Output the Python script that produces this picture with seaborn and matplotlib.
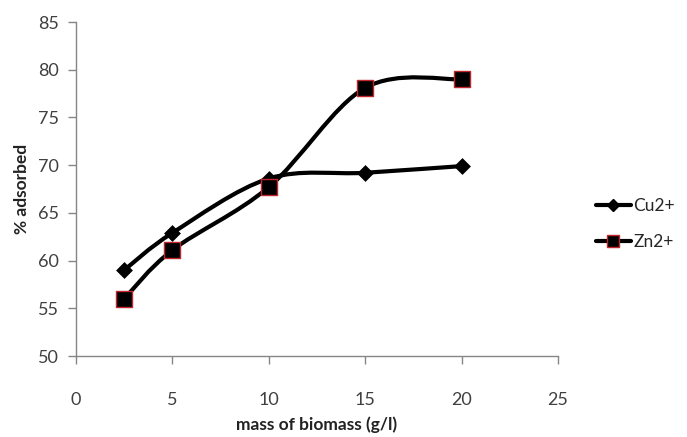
import numpy as np
import pandas as pd
import seaborn as sns
import matplotlib
matplotlib.use('Agg')
import matplotlib.pyplot as plt
from matplotlib.path import Path
from matplotlib.patches import PathPatch
from matplotlib.lines import Line2D

# Data
biomass = [2.5, 5, 10, 15, 20]
cu_adsorbed = [59.0, 62.9, 68.6, 69.2, 69.9]
zn_adsorbed = [56.0, 61.1, 67.7, 78.1, 79.0]
x_ticks = [0, 5, 10, 15, 20, 25]
y_ticks = [50, 55, 60, 65, 70, 75, 80, 85]

df = pd.DataFrame({
    'mass': biomass * 2,
    'adsorbed': cu_adsorbed + zn_adsorbed,
    'ion': ['Cu2+'] * len(biomass) + ['Zn2+'] * len(biomass),
})


def smooth_path(xs, ys):
    """Excel-style smoothed line as cubic Bezier segments (Catmull-Rom)."""
    pts = np.column_stack([xs, ys])
    n = len(pts)
    verts = [pts[0]]
    codes = [Path.MOVETO]
    for i in range(n - 1):
        p0 = pts[i - 1] if i > 0 else pts[i]
        p1 = pts[i]
        p2 = pts[i + 1]
        p3 = pts[i + 2] if i + 2 < n else pts[i + 1]
        c1 = p1 + (p2 - p0) / 6
        c2 = p2 - (p3 - p1) / 6
        verts += [c1, c2, p2]
        codes += [Path.CURVE4] * 3
    return Path(verts, codes)


sns.set_theme(style="white")
plt.rcParams['font.family'] = ['Lato', 'DejaVu Sans']

fig = plt.figure(figsize=(6.87, 4.37), dpi=100)
ax = fig.add_axes([76 / 687, 1 - 356 / 437, (558 - 76) / 687, (356 - 22) / 437])

for ion in ['Cu2+', 'Zn2+']:
    sub = df[df['ion'] == ion]
    patch = PathPatch(smooth_path(sub['mass'].values, sub['adsorbed'].values),
                      facecolor='none', edgecolor='black', lw=3, zorder=2,
                      capstyle='round', joinstyle='round')
    ax.add_patch(patch)

cu = df[df['ion'] == 'Cu2+']
sns.scatterplot(data=cu, x='mass', y='adsorbed', marker='D', s=65,
                color='black', edgecolor='black', linewidth=0.5,
                legend=False, ax=ax, zorder=3)
# black squares with a thin red outline for Zn
zn = df[df['ion'] == 'Zn2+']
sns.scatterplot(data=zn, x='mass', y='adsorbed', marker='s', s=125,
                color='black', edgecolor='#c0272d', linewidth=1.0,
                legend=False, ax=ax, zorder=4)

ax.set_xlim(0, 25)
ax.set_ylim(50, 85)
ax.set_xticks(x_ticks)
ax.set_yticks(y_ticks)

ax.spines['top'].set_visible(False)
ax.spines['right'].set_visible(False)
for s in ['left', 'bottom']:
    ax.spines[s].set_color('#868686')
    ax.spines[s].set_linewidth(1)
ax.tick_params(axis='both', which='major', direction='out', length=6,
               width=1, color='#868686', labelsize=13, labelcolor='#404040',
               left=True, bottom=True)
ax.tick_params(axis='x', pad=20)
ax.tick_params(axis='y', pad=6)

ax.set_xlabel('mass of biomass (g/l)', fontsize=12.5, fontweight='bold',
              color='#222222', labelpad=6)
ax.set_ylabel('% adsorbed', fontsize=12.5, fontweight='bold',
              color='#222222', labelpad=6)

handles = [
    Line2D([0], [0], color='black', lw=3, marker='D', markersize=6.5,
           markerfacecolor='black', markeredgecolor='black'),
    Line2D([0], [0], color='black', lw=3, marker='s', markersize=9,
           markerfacecolor='black', markeredgecolor='#c0272d'),
]
fig.legend(handles, ['Cu2+', 'Zn2+'], loc='center left',
           bbox_to_anchor=(596 / 687, 1 - 224 / 437), frameon=False,
           fontsize=12.5, handlelength=2.0, handletextpad=0.15,
           labelspacing=1.2, borderpad=0, borderaxespad=0)

fig.savefig('out.png', dpi=100, facecolor='white')
